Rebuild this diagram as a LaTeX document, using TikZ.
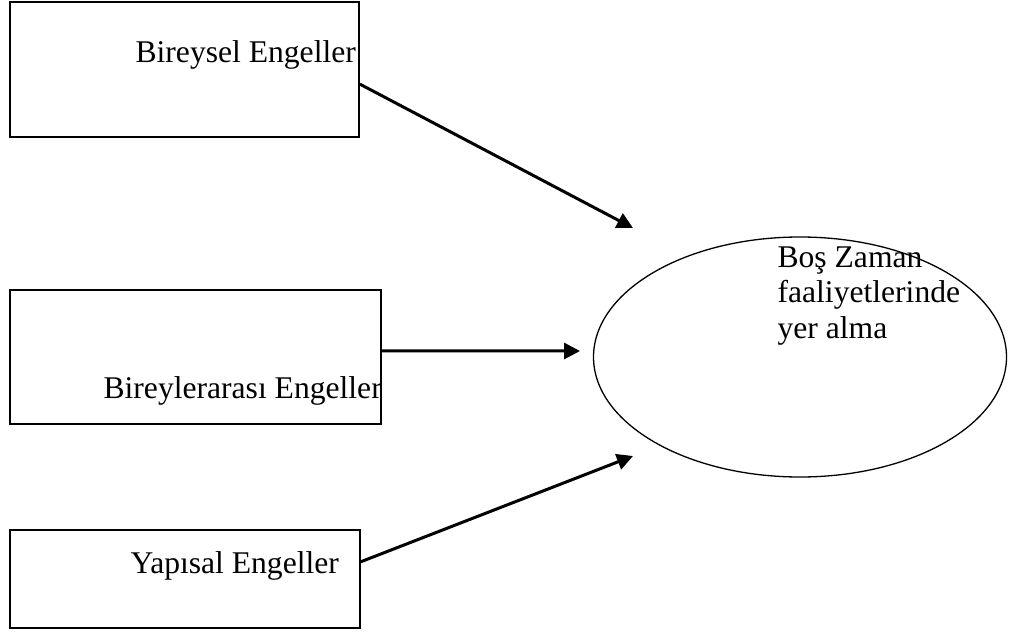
\documentclass[tikz,border=0pt]{standalone}
\usepackage{fontspec}
\setmainfont{Liberation Serif}
\usetikzlibrary{arrows.meta,calc,shapes.geometric}

\begin{document}
\begin{tikzpicture}[x=0.5pt,y=-0.5pt,>={Triangle[length=8pt,width=8pt]},semithick]
	\tikzstyle{box}=[draw,line width=0.85pt,inner sep=0pt]
	\tikzstyle{lbl}=[inner sep=0pt,font=\fontsize{15.8}{17.75}\selectfont]
	\useasboundingbox (0,0) rectangle (1010,636);

	\node[box,minimum width=174.5pt,minimum height=67.5pt] (b1) at (184.5,69.5) {};
	\node[box,minimum width=185.5pt,minimum height=67pt] (b2) at (195.5,357) {};
	\node[box,minimum width=175pt,minimum height=49pt] (b3) at (185,579) {};
	\node[draw,ellipse,line width=0.65pt,inner sep=0pt,
		minimum width=206.5pt,minimum height=120pt] (e) at (800,357) {};

	\node[lbl,anchor=base west] (l1) at (135,63) {Bireysel Engeller};
	\node[lbl,anchor=base west] (l2) at (103,398) {Bireylerarası Engeller};
	\node[lbl,anchor=base west] (l3) at (130,573) {Yapısal Engeller};
	\node[lbl,anchor=base west,align=left] (l4) at (777,338) {Boş Zaman\\faaliyetlerinde\\yer alma};

	\coordinate (s1) at ($(b1.north east)!0.607!(b1.south east)$);
	\coordinate (s2) at ($(b2.north east)!0.455!(b2.south east)$);
	\coordinate (s3) at ($(b3.north east)!0.327!(b3.south east)$);
	\coordinate (t1) at (633,228);
	\coordinate (t2) at (580,351);
	\coordinate (t3) at (633,456);

	\path[->,line width=1.5pt]
	(s1) edge (t1)
	(s2) edge (t2)
	(s3) edge (t3);
\end{tikzpicture}
\end{document}
